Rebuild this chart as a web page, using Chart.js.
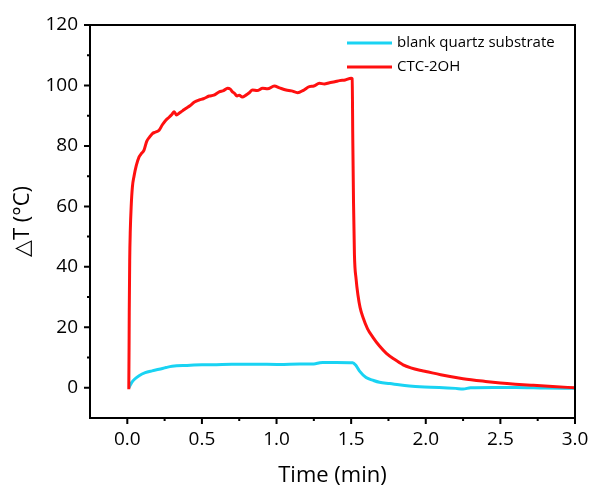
<!DOCTYPE html>
<html>
<head>
<meta charset="utf-8">
<script src="https://cdn.jsdelivr.net/npm/chart.js@4.4.1/dist/chart.umd.min.js"></script>
<style>
  html, body { margin: 0; padding: 0; background: #fff; }
  #wrap { width: 594px; height: 491px; }
</style>
</head>
<body>
<div id="wrap"><canvas id="chart" width="594" height="491"></canvas></div>
<script>
// values
const seriesNames = ['blank quartz substrate', 'CTC-2OH'];

const timeRed = [0, 0.010, 0.013, 0.016, 0.020, 0.026, 0.034, 0.045, 0.06, 0.079, 0.095, 0.112, 0.13, 0.15, 0.168, 0.19,
  0.213, 0.235, 0.258, 0.28, 0.3, 0.314, 0.33, 0.347, 0.37, 0.392, 0.42, 0.45, 0.482, 0.51, 0.549, 0.58, 0.616,
  0.645, 0.672, 0.69, 0.705, 0.717, 0.735, 0.75, 0.77, 0.795, 0.815, 0.839, 0.87, 0.907, 0.94, 0.985, 1.02, 1.064,
  1.1, 1.142, 1.18, 1.22, 1.25, 1.287, 1.32, 1.355, 1.39, 1.422, 1.46, 1.50, 1.507, 1.511, 1.516, 1.522, 1.533,
  1.546, 1.56, 1.579, 1.61, 1.646, 1.69, 1.736, 1.79, 1.848, 1.9, 1.96, 2.0, 2.1, 2.25, 2.4, 2.5, 2.6, 2.72, 2.85, 3.0];
const tempRed = [0, 0, 25, 42, 52, 60, 66.4, 70, 73.5, 76.4, 77.5, 78.6, 81.5, 83, 84.1, 84.6,
  85.2, 87, 88.5, 89.5, 90.5, 91.3, 90.2, 90.8, 91.6, 92.4, 93.3, 94.5, 95.2, 95.6, 96.5, 96.8, 97.9,
  98.3, 99.1, 98.8, 97.9, 97.5, 96.5, 96.8, 96.2, 96.8, 97.5, 98.5, 98.3, 99.1, 98.9, 99.8, 99.2, 98.5,
  98.2, 97.6, 98.4, 99.6, 99.8, 100.7, 100.5, 100.9, 101.2, 101.6, 101.8, 102.4, 102.2, 82, 61, 44, 36,
  30.5, 26.5, 23.3, 19.5, 16.7, 13.8, 11.4, 9.4, 7.6, 6.6, 5.8, 5.4, 4.3, 3.0, 2.1, 1.6, 1.2, 0.8, 0.4, 0];

const timeBlank = [0.012, 0.03, 0.05, 0.079, 0.12, 0.166, 0.213, 0.26, 0.30, 0.4, 0.5, 0.57, 0.7, 0.85, 1.02,
  1.156, 1.25, 1.29, 1.31, 1.4, 1.51, 1.53, 1.555, 1.6, 1.65, 1.69, 1.76, 1.82, 1.89, 1.96, 2.09, 2.2, 2.25,
  2.3, 2.45, 2.6, 2.8, 3.0];
const tempBlank = [0.1, 1.8, 2.9, 4.0, 5.0, 5.6, 6.1, 6.7, 7.1, 7.4, 7.6, 7.6, 7.8, 7.8, 7.7,
  7.9, 7.9, 8.3, 8.4, 8.4, 8.3, 7.5, 5.6, 3.4, 2.4, 1.8, 1.4, 1.0, 0.6, 0.3, 0.1, -0.2, -0.4,
  0.0, 0.1, 0.1, -0.1, -0.2];

const xRange = [-0.25, 3.0];
const yRange = [-10, 120];

const colors = ['#19D3F3', '#FF1010'];
const fontFamily = '"Open Sans", "DejaVu Sans", sans-serif';

function toPoints(xs, ys) {
  return xs.map((x, i) => ({ x: x, y: ys[i] }));
}

function isMajor(v, step) {
  const r = v / step;
  return Math.abs(r - Math.round(r)) < 1e-6;
}

// frame, outward ticks (major + minor) and the legend inside the plot
const framePlugin = {
    id: 'frame',
    afterDraw(chart) {
        const ctx = chart.ctx;
        const a = chart.chartArea;
        const xs = chart.scales.x, ys = chart.scales.y;
        ctx.save();
        ctx.strokeStyle = '#000';
        ctx.lineWidth = 2;
        ctx.strokeRect(a.left, a.top, a.right - a.left, a.bottom - a.top);

        ctx.beginPath();
        xs.ticks.forEach(t => {
            const px = xs.getPixelForValue(t.value);
            if (px < a.left + 1) return;
            const len = isMajor(t.value, 0.5) ? 6 : 3;
            ctx.moveTo(px, a.bottom);
            ctx.lineTo(px, a.bottom + len);
        });
        ys.ticks.forEach(t => {
            const py = ys.getPixelForValue(t.value);
            if (py > a.bottom - 1) return;
            const len = isMajor(t.value, 20) ? 6 : 3;
            ctx.moveTo(a.left, py);
            ctx.lineTo(a.left - len, py);
        });
        ctx.stroke();

        // legend
        ctx.font = '15px ' + fontFamily;
        ctx.textBaseline = 'middle';
        ctx.fillStyle = '#000';
        seriesNames.forEach((name, i) => {
            const y = 43 + i * 24;
            ctx.strokeStyle = colors[i];
            ctx.lineWidth = 3;
            ctx.beginPath();
            ctx.moveTo(347, y);
            ctx.lineTo(392, y);
            ctx.stroke();
            ctx.fillText(name, 397, y);
        });
        ctx.restore();
    }
};

new Chart(document.getElementById('chart').getContext('2d'), {
    type: 'scatter',
    data: {
        datasets: [
            {
                label: seriesNames[0],
                data: toPoints(timeBlank, tempBlank),
                showLine: true,
                borderColor: colors[0],
                borderWidth: 3,
                pointRadius: 0,
                cubicInterpolationMode: 'monotone',
                order: 2
            },
            {
                label: seriesNames[1],
                data: toPoints(timeRed, tempRed),
                showLine: true,
                borderColor: colors[1],
                borderWidth: 3,
                pointRadius: 0,
                cubicInterpolationMode: 'monotone',
                order: 1
            }
        ]
    },
    options: {
        responsive: false,
        animation: false,
        layout: { padding: { top: 25, right: 19, left: 0, bottom: 0 } },
        plugins: {
            legend: { display: false },
            tooltip: { enabled: false }
        },
        scales: {
            x: {
                type: 'linear',
                min: xRange[0],
                max: xRange[1],
                afterFit: s => { s.height = 73; s.paddingLeft = 0; s.paddingRight = 0; },
                border: { display: false },
                grid: { display: false, drawTicks: false },
                ticks: {
                    stepSize: 0.25,
                    autoSkip: false,
                    maxRotation: 0,
                    padding: 10,
                    color: '#000',
                    font: { family: fontFamily, size: 19 },
                    callback: v => (isMajor(v, 0.5) ? v.toFixed(1) : '')
                },
                title: {
                    display: true,
                    text: 'Time (min)',
                    color: '#000',
                    font: { family: fontFamily, size: 22 },
                    padding: { top: 0, bottom: 2 }
                }
            },
            y: {
                type: 'linear',
                min: yRange[0],
                max: yRange[1],
                afterFit: s => { s.width = 90; s.paddingTop = 0; s.paddingBottom = 0; },
                border: { display: false },
                grid: { display: false, drawTicks: false },
                ticks: {
                    stepSize: 10,
                    autoSkip: false,
                    padding: 12,
                    color: '#000',
                    font: { family: fontFamily, size: 19 },
                    callback: v => (isMajor(v, 20) ? String(Math.round(v)) : '')
                },
                title: {
                    display: true,
                    text: '△T (°C)',
                    color: '#000',
                    font: { family: fontFamily, size: 22 },
                    padding: { top: 10, bottom: 0 }
                }
            }
        }
    },
    plugins: [framePlugin]
});
</script>
</body>
</html>
